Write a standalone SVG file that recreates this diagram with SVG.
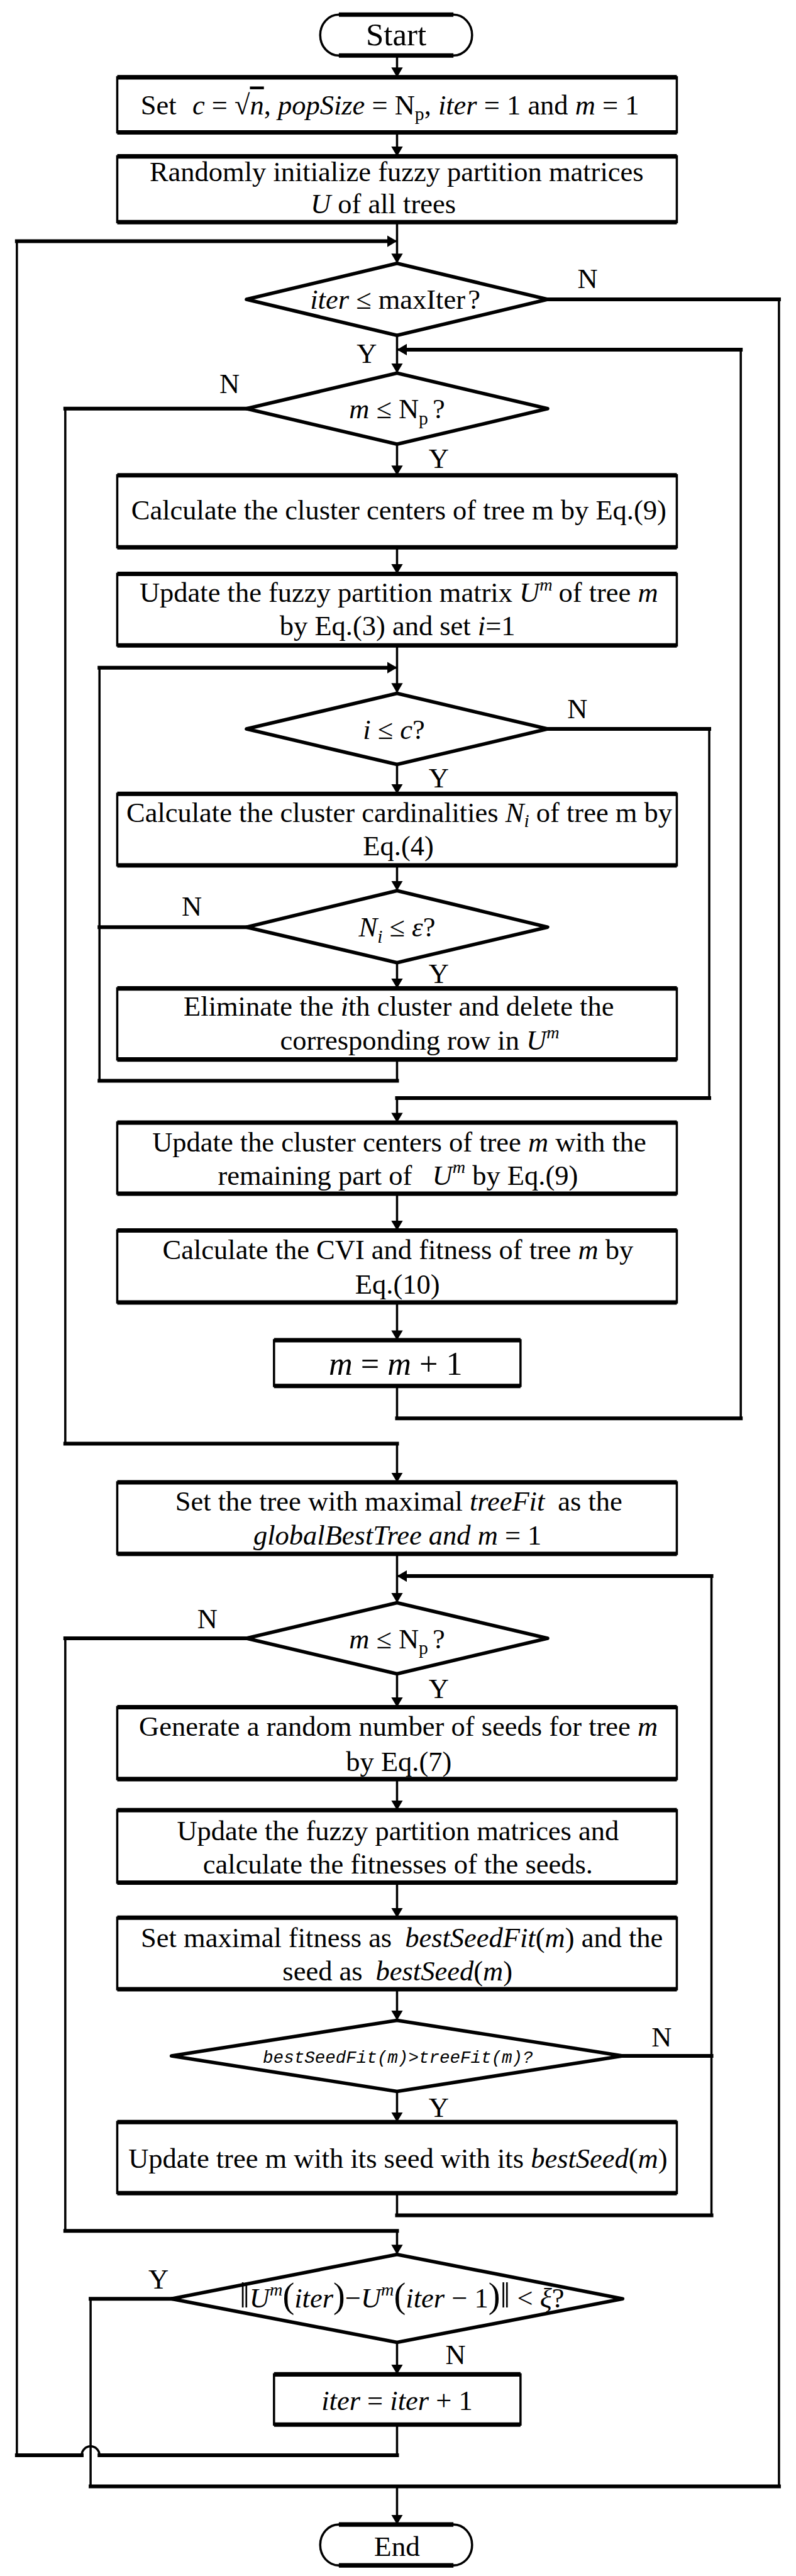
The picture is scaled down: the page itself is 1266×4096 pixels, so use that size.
<svg xmlns="http://www.w3.org/2000/svg" width="1266" height="4096" viewBox="0 0 1266 4096">
<defs>
<style>
.t{font-family:"Liberation Serif","Times New Roman",serif;font-size:63px;fill:#000;text-anchor:middle}
.i{font-style:italic}
.mono{font-family:"Liberation Mono","Courier New",monospace;font-size:39px;font-style:italic}
.box{fill:#fff;stroke:#000;stroke-width:5}
.edge{fill:none;stroke:#000;stroke-width:10}
.dia{fill:#fff;stroke:#000;stroke-width:8;stroke-linejoin:round}
.conn path{fill:none;stroke:#000;stroke-width:5}
.conn path.h{stroke-width:8.5;stroke-linecap:square}
</style>
<marker id="arr" viewBox="0 0 22 26" refX="22" refY="13" markerWidth="22" markerHeight="26" orient="auto" markerUnits="userSpaceOnUse"><path d="M0,0 L22,13 L0,26 Z" fill="#000"/></marker>
</defs>
<rect width="1266" height="4096" fill="#fff"/>
<g transform="scale(0.70634)">
<g id="connectors" class="conn">
<path d="M894,125 V174" marker-end="url(#arr)"/>
<path d="M894,298 V352" marker-end="url(#arr)"/>
<path d="M894,500 V593" marker-end="url(#arr)"/>
<path d="M894,5458 V5527 H224 A20,20 0 0 0 184,5527 H38 V543 H894" marker-end="url(#arr)"/>
<path d="M1233,674 H1754 V5597 H894"/>
<path d="M894,755 V840" marker-end="url(#arr)"/>
<path d="M894,3120 V3193 H1668 V787 H894" marker-end="url(#arr)"/>
<path d="M555,920 H147 V3250 H894 V3337" marker-end="url(#arr)"/>
<path d="M894,1000 V1070" marker-end="url(#arr)"/>
<path d="M894,1232 V1292" marker-end="url(#arr)"/>
<path d="M894,1453 V1560" marker-end="url(#arr)"/>
<path d="M894,2385 V2433 H224 V1503 H894" marker-end="url(#arr)"/>
<path d="M1233,1641 H1597 V2472 H894 V2527" marker-end="url(#arr)"/>
<path d="M894,1720 V1787" marker-end="url(#arr)"/>
<path d="M894,1948 V2005" marker-end="url(#arr)"/>
<path d="M894,2167 V2225" marker-end="url(#arr)"/>
<path d="M894,2687 V2770" marker-end="url(#arr)"/>
<path d="M894,2932 V3017" marker-end="url(#arr)"/>
<path d="M894,3498 V3608" marker-end="url(#arr)"/>
<path d="M894,4937 V4987 H1602 V3548 H894" marker-end="url(#arr)"/>
<path d="M555,3688 H147 V5022 H894 V5075" marker-end="url(#arr)"/>
<path d="M894,3768 V3843" marker-end="url(#arr)"/>
<path d="M894,4005 V4075" marker-end="url(#arr)"/>
<path d="M894,4238 V4317" marker-end="url(#arr)"/>
<path d="M894,4478 V4548" marker-end="url(#arr)"/>
<path d="M894,4708 V4777" marker-end="url(#arr)"/>
<path d="M894,5273 V5345" marker-end="url(#arr)"/>
<path d="M388,5175 H204 V5597 H894 V5683" marker-end="url(#arr)"/>
<path class="h" d="M38,543 H870 M1233,674 H1754 M918,787 H1668 M555,920 H147 M147,3250 H894 M224,1503 H870 M555,2087 H224 M894,2433 H224 M1233,1641 H1597 M1597,2472 H894 M894,3193 H1668 M918,3548 H1602 M894,4987 H1602 M1402,4628 H1602 M555,3688 H147 M147,5022 H894 M388,5175 H204 M204,5597 H1754 M894,5527 H224 M184,5527 H38"/>
</g>
<g id="labels" class="t">
<text x="1323" y="648">N</text>
<text x="826" y="817">Y</text>
<text x="517" y="885">N</text>
<text x="988" y="1053">Y</text>
<text x="1300" y="1617">N</text>
<text x="988" y="1772">Y</text>
<text x="432" y="2062">N</text>
<text x="988" y="2213">Y</text>
<text x="467" y="3665">N</text>
<text x="988" y="3823">Y</text>
<text x="1490" y="4607">N</text>
<text x="988" y="4765">Y</text>
<text x="357" y="5152">Y</text>
<text x="1026" y="5322">N</text>
</g>
<g id="start">
<rect class="box" x="721" y="33" width="342" height="92" rx="42" ry="46"/>
<path class="edge" d="M763,33 H1021 M763,125 H1021"/>
<text class="t" x="892" y="102" style="font-size:72px">Start</text>
</g>
<g id="init">
<rect class="box" x="264" y="174" width="1260" height="124"/>
<path class="edge" d="M264,174 H1524 M264,298 H1524"/>
<text class="t" x="878" y="257">Set <tspan class="i" dx="20">c</tspan> = √<tspan class="i" text-decoration="overline">n</tspan>, <tspan class="i">popSize</tspan> = N<tspan font-size="42" dy="14">p</tspan><tspan dy="-14">, </tspan><tspan class="i">iter</tspan> = 1 and <tspan class="i">m</tspan> = 1</text>
</g>
<g id="randinit">
<rect class="box" x="264" y="352" width="1260" height="148"/>
<path class="edge" d="M264,352 H1524 M264,500 H1524"/>
<text class="t" x="893" y="408">Randomly initialize fuzzy partition matrices</text>
<text class="t" x="863" y="480"><tspan class="i">U</tspan> of all trees</text>
</g>
<g id="d_iter">
<polygon class="dia" points="894,593 1233,674 894,755 555,674"/>
<text class="t" x="890" y="695"><tspan class="i">iter</tspan> ≤ maxIter<tspan dx="6">?</tspan></text>
</g>
<g id="d_m1">
<polygon class="dia" points="894,840 1233,920 894,1000 555,920"/>
<text class="t" x="894" y="942"><tspan class="i">m</tspan> ≤ N<tspan font-size="42" dy="14">p</tspan><tspan dy="-14" dx="10">?</tspan></text>
</g>
<g id="centers">
<rect class="box" x="264" y="1070" width="1260" height="162"/>
<path class="edge" d="M264,1070 H1524 M264,1232 H1524"/>
<text class="t" x="898" y="1170">Calculate the cluster centers of tree m by Eq.(9)</text>
</g>
<g id="updU">
<rect class="box" x="264" y="1292" width="1260" height="161"/>
<path class="edge" d="M264,1292 H1524 M264,1453 H1524"/>
<text class="t" x="898" y="1355">Update the fuzzy partition matrix <tspan class="i">U</tspan><tspan class="i" font-size="40" dy="-26">m</tspan><tspan dy="26" dx="14">of tree </tspan><tspan class="i">m</tspan></text>
<text class="t" x="895" y="1430">by Eq.(3) and set <tspan class="i">i</tspan>=1</text>
</g>
<g id="d_i">
<polygon class="dia" points="894,1561 1233,1641 894,1721 555,1641"/>
<text class="t" x="887" y="1663"><tspan class="i">i</tspan> ≤ <tspan class="i">c</tspan>?</text>
</g>
<g id="card">
<rect class="box" x="264" y="1787" width="1260" height="161"/>
<path class="edge" d="M264,1787 H1524 M264,1948 H1524"/>
<text class="t" x="899" y="1850">Calculate the cluster cardinalities <tspan class="i">N</tspan><tspan class="i" font-size="42" dy="12">i</tspan><tspan dy="-12"> of tree m by</tspan></text>
<text class="t" x="897" y="1925">Eq.(4)</text>
</g>
<g id="d_N">
<polygon class="dia" points="894,2005 1233,2087 894,2167 555,2087"/>
<text class="t" x="894" y="2108"><tspan class="i">N</tspan><tspan class="i" font-size="42" dy="14">i</tspan><tspan dy="-14"> ≤ </tspan><tspan class="i">ε</tspan>?</text>
</g>
<g id="elim">
<rect class="box" x="264" y="2225" width="1260" height="160"/>
<path class="edge" d="M264,2225 H1524 M264,2385 H1524"/>
<text class="t" x="898" y="2287">Eliminate the <tspan class="i">i</tspan>th cluster and delete the</text>
<text class="t" x="945" y="2363">corresponding row in <tspan class="i">U</tspan><tspan class="i" font-size="40" dy="-26">m</tspan></text>
</g>
<g id="updC">
<rect class="box" x="264" y="2527" width="1260" height="160"/>
<path class="edge" d="M264,2527 H1524 M264,2687 H1524"/>
<text class="t" x="899" y="2592">Update the cluster centers of tree <tspan class="i">m</tspan> with the</text>
<text class="t" x="896" y="2667">remaining part of <tspan class="i" dx="30">U</tspan><tspan class="i" font-size="40" dy="-26">m</tspan><tspan dy="26"> by Eq.(9)</tspan></text>
</g>
<g id="cvi">
<rect class="box" x="264" y="2770" width="1260" height="162"/>
<path class="edge" d="M264,2770 H1524 M264,2932 H1524"/>
<text class="t" x="896" y="2835">Calculate the CVI and fitness of tree <tspan class="i">m</tspan> by</text>
<text class="t" x="895" y="2912">Eq.(10)</text>
</g>
<g id="minc">
<rect class="box" x="617" y="3017" width="555" height="103"/>
<path class="edge" d="M617,3017 H1172 M617,3120 H1172"/>
<text class="t" x="891" y="3095" style="font-size:74px"><tspan class="i">m</tspan> = <tspan class="i">m</tspan> + 1</text>
</g>
<g id="best">
<rect class="box" x="264" y="3337" width="1260" height="161"/>
<path class="edge" d="M264,3337 H1524 M264,3498 H1524"/>
<text class="t" x="898" y="3400">Set the tree with maximal <tspan class="i">treeFit</tspan> <tspan dx="14">as the</tspan></text>
<text class="t" x="895" y="3477"><tspan class="i">globalBestTree and m</tspan> = 1</text>
</g>
<g id="d_m2">
<polygon class="dia" points="894,3608 1233,3688 894,3768 555,3688"/>
<text class="t" x="894" y="3710"><tspan class="i">m</tspan> ≤ N<tspan font-size="42" dy="14">p</tspan><tspan dy="-14" dx="10">?</tspan></text>
</g>
<g id="gen">
<rect class="box" x="264" y="3843" width="1260" height="162"/>
<path class="edge" d="M264,3843 H1524 M264,4005 H1524"/>
<text class="t" x="897" y="3908">Generate a random number of seeds for tree <tspan class="i">m</tspan></text>
<text class="t" x="898" y="3987">by Eq.(7)</text>
</g>
<g id="updF">
<rect class="box" x="264" y="4075" width="1260" height="163"/>
<path class="edge" d="M264,4075 H1524 M264,4238 H1524"/>
<text class="t" x="896" y="4142">Update the fuzzy partition matrices and</text>
<text class="t" x="896" y="4217">calculate the fitnesses of the seeds.</text>
</g>
<g id="seedfit">
<rect class="box" x="264" y="4317" width="1260" height="161"/>
<path class="edge" d="M264,4317 H1524 M264,4478 H1524"/>
<text class="t" x="905" y="4383">Set maximal fitness as <tspan class="i" dx="14">bestSeedFit</tspan>(<tspan class="i">m</tspan>) and the</text>
<text class="t" x="895" y="4458">seed as <tspan class="i" dx="14">bestSeed</tspan>(<tspan class="i">m</tspan>)</text>
</g>
<g id="d_seed">
<polygon class="dia" points="894,4548 1402,4628 894,4708 386,4628"/>
<text class="t mono" x="896" y="4643">bestSeedFit(m)&gt;treeFit(m)?</text>
</g>
<g id="updT">
<rect class="box" x="264" y="4777" width="1260" height="160"/>
<path class="edge" d="M264,4777 H1524 M264,4937 H1524"/>
<text class="t" x="896" y="4880">Update tree m with its seed with its <tspan class="i">bestSeed</tspan>(<tspan class="i">m</tspan>)</text>
</g>
<g id="d_conv">
<polygon class="dia" points="894,5075 1402,5175 894,5273 386,5175"/>
<text class="t" x="905" y="5195"><tspan font-size="80">‖</tspan><tspan class="i">U</tspan><tspan class="i" font-size="40" dy="-28">m</tspan><tspan font-size="80" dy="28">(</tspan><tspan class="i">iter</tspan><tspan font-size="80">)</tspan>−<tspan class="i">U</tspan><tspan class="i" font-size="40" dy="-28">m</tspan><tspan font-size="80" dy="28">(</tspan><tspan class="i">iter</tspan> − 1<tspan font-size="80">)‖</tspan> &lt; <tspan class="i">ξ</tspan>?</text>
</g>
<g id="iterinc">
<rect class="box" x="617" y="5345" width="555" height="113"/>
<path class="edge" d="M617,5345 H1172 M617,5458 H1172"/>
<text class="t" x="894" y="5425"><tspan class="i">iter</tspan> = <tspan class="i">iter</tspan> + 1</text>
</g>
<g id="end">
<rect class="box" x="721" y="5683" width="342" height="92" rx="42" ry="46"/>
<path class="edge" d="M763,5683 H1021 M763,5775 H1021"/>
<text class="t" x="894" y="5753" style="font-size:64px">End</text>
</g>
</g>
</svg>
